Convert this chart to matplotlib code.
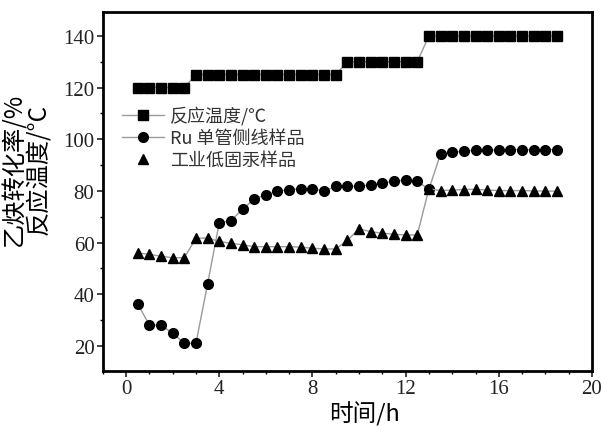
import matplotlib
matplotlib.use("Agg")
import matplotlib.pyplot as plt
from matplotlib.lines import Line2D
from matplotlib.ticker import MultipleLocator

plt.rcParams['font.family'] = ['Liberation Serif', 'Noto Sans CJK SC']

time_h = [0.5, 1.0, 1.5, 2.0, 2.5, 3.0, 3.5, 4.0, 4.5, 5.0, 5.5, 6.0, 6.5, 7.0, 7.5,
          8.0, 8.5, 9.0, 9.5, 10.0, 10.5, 11.0, 11.5, 12.0, 12.5, 13.0, 13.5, 14.0,
          14.5, 15.0, 15.5, 16.0, 16.5, 17.0, 17.5, 18.0, 18.5]
temperature = [120, 120, 120, 120, 120, 125, 125, 125, 125, 125, 125, 125, 125, 125, 125,
               125, 125, 125, 130, 130, 130, 130, 130, 130, 130, 140, 140, 140,
               140, 140, 140, 140, 140, 140, 140, 140, 140]
ru_sample = [36.2, 28.1, 28.0, 24.9, 21.0, 21.0, 44.0, 67.6, 68.5, 72.8, 76.9, 78.4, 79.9,
             80.5, 80.8, 80.8, 79.9, 81.7, 81.8, 81.8, 82.3, 83.1, 83.7, 84.2, 83.7, 80.6,
             94.3, 95.0, 95.3, 95.8, 95.8, 95.8, 95.9, 95.9, 95.9, 96.0, 96.0]
industrial = [56.0, 55.4, 54.7, 54.1, 54.1, 61.7, 61.7, 60.4, 59.7, 59.1, 58.4, 58.4, 58.4,
              58.4, 58.2, 57.8, 57.5, 57.5, 60.8, 65.3, 64.2, 63.6, 63.2, 62.9, 62.9, 80.8,
              80.1, 80.3, 80.5, 80.6, 80.3, 80.1, 80.1, 80.1, 80.0, 79.9, 79.9]

labels = ['反应温度/℃', 'Ru 单管侧线样品', '工业低固汞样品']

fig = plt.figure(figsize=(6.01, 4.27), dpi=100)
ax = fig.add_axes([0.171, 0.129, 0.814, 0.841])

line_color = '#9a9a9a'
ms = 6.5
ax.plot(time_h, temperature, color=line_color, lw=1.0, marker='s', ms=ms,
        mfc='black', mec='black', zorder=3)
ax.plot(time_h, ru_sample, color=line_color, lw=1.0, marker='o', ms=ms + 0.5,
        mfc='black', mec='black', zorder=3)
ax.plot(time_h, industrial, color=line_color, lw=1.0, marker='^', ms=ms + 0.5,
        mfc='black', mec='black', zorder=3)

ax.set_xlim(-1, 20)
ax.set_ylim(10.3, 149.3)
ax.xaxis.set_major_locator(MultipleLocator(4))
ax.xaxis.set_minor_locator(MultipleLocator(1))
ax.yaxis.set_major_locator(MultipleLocator(20))
ax.yaxis.set_minor_locator(MultipleLocator(10))
ax.set_yticks([20, 40, 60, 80, 100, 120, 140])
ax.tick_params(which='major', direction='out', length=4, width=1.2, labelsize=15,
               colors='#222222', pad=2)
ax.tick_params(which='minor', direction='out', length=2.5, width=1.0)
for s in ax.spines.values():
    s.set_linewidth(2.0)
    s.set_color('black')

ax.set_xlabel('时间/h', fontsize=17, labelpad=0,
              family=['Noto Sans CJK SC', 'Liberation Serif'])
ax.xaxis.set_label_coords(0.535, -0.085)
ax.set_ylabel('乙炔转化率/%\n反应温度/°C', fontsize=17.5, labelpad=2, linespacing=0.95,
              family=['Noto Sans CJK SC', 'Liberation Serif'])
ax.yaxis.set_label_coords(-0.104, 0.565)

handles = [
    Line2D([], [], color=line_color, lw=1.0, marker='s', ms=ms, mfc='black', mec='black'),
    Line2D([], [], color=line_color, lw=1.0, marker='o', ms=ms + 0.5, mfc='black', mec='black'),
    Line2D([], [], color=line_color, lw=0, marker='^', ms=ms + 0.5, mfc='black', mec='black'),
]
leg = ax.legend(handles, labels, loc='upper left', bbox_to_anchor=(0.025, 0.758),
                frameon=False, handlelength=2.3, handletextpad=0.35,
                labelspacing=0.22, borderaxespad=0,
                prop={'family': ['Noto Sans CJK SC', 'Liberation Serif'], 'size': 13})
for t in leg.get_texts():
    t.set_color('#333333')

fig.savefig('out.png', dpi=100)
